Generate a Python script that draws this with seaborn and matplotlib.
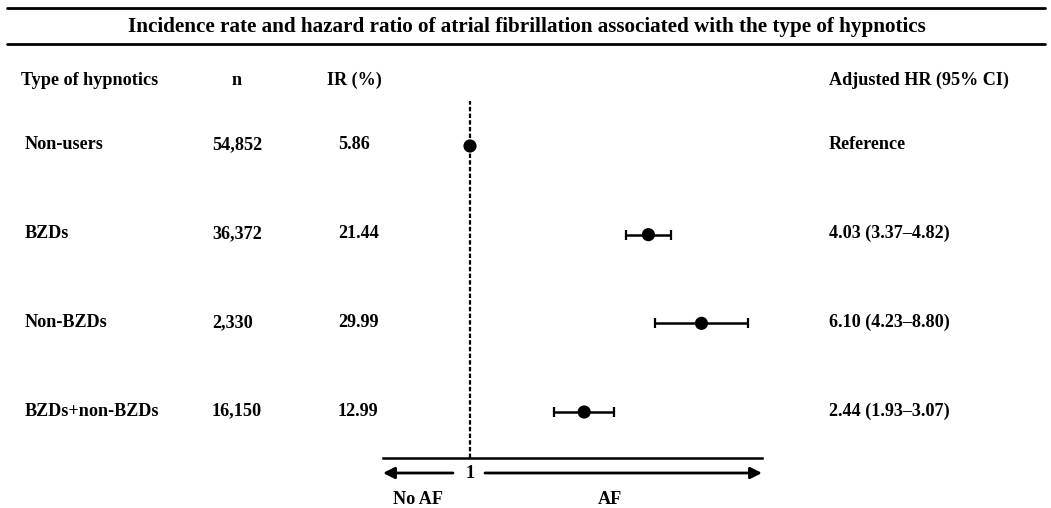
import numpy as np
import seaborn as sns
import matplotlib.pyplot as plt
from matplotlib import transforms
from matplotlib.lines import Line2D

# data
groups = ["Non-users", "BZDs", "Non-BZDs", "BZDs+non-BZDs"]
n_text = ["54,852", "36,372", "2,330", "16,150"]
ir_text = ["5.86", "21.44", "29.99", "12.99"]
hr = np.array([1.00, 4.03, 6.10, 2.44])
hr_lo = np.array([1.00, 3.37, 4.23, 1.93])
hr_hi = np.array([1.00, 4.82, 8.80, 3.07])
hr_text = ["Reference", "4.03 (3.37\u20134.82)", "6.10 (4.23\u20138.80)", "2.44 (1.93\u20133.07)"]
title = "Incidence rate and hazard ratio of atrial fibrillation associated with the type of hypnotics"
headers = ["Type of hypnotics", "n", "IR (%)", "Adjusted HR (95% CI)"]

sns.set_style("white")
plt.rcParams["font.family"] = ["Liberation Serif", "DejaVu Serif"]
plt.rcParams["font.weight"] = "bold"
plt.rcParams["text.color"] = "black"
FS = 13.1

W, H = 1051, 508
fig = plt.figure(figsize=(W / 100, H / 100), dpi=100)


def fx(px):
    return px / W


def fy(py):
    return 1 - py / H


ax = fig.add_axes([fx(383), fy(458), fx(762) - fx(383), (458 - 101) / H])
ax.set_xscale("log")
ax.set_xlim(np.exp(-87 / 128), np.exp(292 / 128))
rows = np.arange(len(groups))
ax.set_ylim(3 + 46 / 88.67, -45 / 88.67)

# forest plot marks
ax.axvline(1, color="black", lw=1.6, ls=(0, (2, 1)), zorder=1)
ax.errorbar(hr[1:], rows[1:], xerr=[hr[1:] - hr_lo[1:], hr_hi[1:] - hr[1:]],
            fmt="none", ecolor="black", elinewidth=1.8, capsize=3.5, capthick=1.6, zorder=2)
sns.scatterplot(x=hr, y=rows, color="black", s=90, edgecolor="none", ax=ax, zorder=3)

for s in ["top", "left", "right"]:
    ax.spines[s].set_visible(False)
ax.spines["bottom"].set_linewidth(1.8)
ax.spines["bottom"].set_color("black")
ax.set_xticks([])
ax.set_xticks([], minor=True)
ax.set_yticks([])
ax.set_xlabel("")
ax.set_ylabel("")

# arrows under the axis
xt = ax.get_xaxis_transform()
ya = -15 / 357
arrow = dict(arrowstyle="-|>", lw=2, color="black", mutation_scale=17, shrinkA=0, shrinkB=0)
ax.annotate("", xy=(ax.get_xlim()[0], ya), xytext=(np.exp(-17 / 128), ya), xycoords=xt,
            arrowprops=arrow, annotation_clip=False)
ax.annotate("", xy=(ax.get_xlim()[1], ya), xytext=(np.exp(15 / 128), ya), xycoords=xt,
            arrowprops=arrow, annotation_clip=False)
ax.text(1, ya, "1", transform=xt, ha="center", va="center", fontsize=FS)
ax.text(np.exp(-52 / 128), -42 / 357, "No AF", transform=xt, ha="center", va="center", fontsize=FS)
ax.text(np.exp(140 / 128), -42 / 357, "AF", transform=xt, ha="center", va="center", fontsize=FS)

# table columns (text sits a touch above the marker row)
bt = transforms.blended_transform_factory(fig.transFigure, ax.transData)
dy = -3 / 88.67
for i, g in enumerate(groups):
    fig.text(fx(25), i + dy, g, transform=bt, ha="left", va="center_baseline", fontsize=FS)
    fig.text(fx(212), i + dy, n_text[i], transform=bt, ha="left", va="center_baseline", fontsize=FS)
    fig.text(fx(338), i + dy, ir_text[i], transform=bt, ha="left", va="center_baseline", fontsize=FS)
    fig.text(fx(829), i + dy, hr_text[i], transform=bt, ha="left", va="center_baseline", fontsize=FS)

hy = -65 / 88.67 + dy
fig.text(fx(21), hy, headers[0], transform=bt, ha="left", va="center_baseline", fontsize=FS)
fig.text(fx(237), hy, headers[1], transform=bt, ha="center", va="center_baseline", fontsize=FS)
fig.text(fx(354), hy, headers[2], transform=bt, ha="center", va="center_baseline", fontsize=FS)
fig.text(fx(829), hy, headers[3], transform=bt, ha="left", va="center_baseline", fontsize=FS)

# title with rules
fig.text(fx(527), fy(27), title, ha="center", va="center", fontsize=15.2)
fig.add_artist(Line2D([fx(7), fx(1045)], [fy(8), fy(8)], lw=2, color="black"))
fig.add_artist(Line2D([fx(7), fx(1045)], [fy(44), fy(44)], lw=2, color="black"))

fig.savefig("out.png", dpi=100)
